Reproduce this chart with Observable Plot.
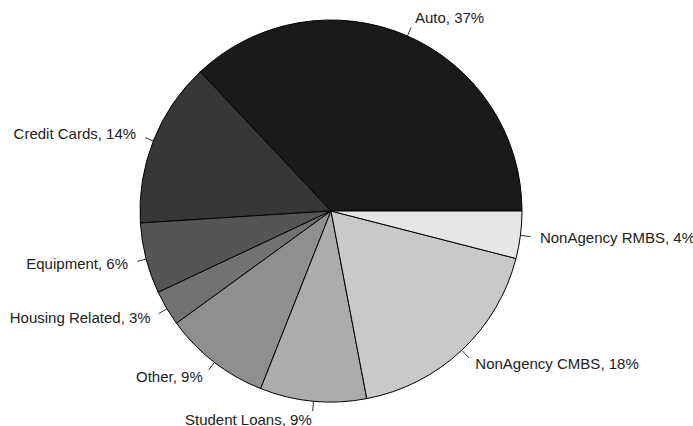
<!DOCTYPE html>
<html>
<head>
<meta charset="utf-8">
<script src="https://cdn.jsdelivr.net/npm/d3@7"></script>
<script src="https://cdn.jsdelivr.net/npm/@observablehq/plot@0.6"></script>
<style>
  html, body { margin: 0; padding: 0; background: #fff; }
</style>
</head>
<body>
<div id="chart"></div>
<script>
// Data (R-style pie: starts at 3 o'clock, counter-clockwise)
const categories = ["Auto", "Credit Cards", "Equipment", "Housing Related", "Other", "Student Loans", "NonAgency CMBS", "NonAgency RMBS"];
const shares = [37, 14, 6, 3, 9, 9, 18, 4];
const grays = ["#1a1a1a", "#373737", "#555555", "#727272", "#8f8f8f", "#acacac", "#c9c9c9", "#e6e6e6"];

const W = 693, H = 426;
const cx = 331, cy = 211, R = 191; // pixel layout of the pie

const total = d3.sum(shares);
const ends = d3.cumsum(shares);
const slices = categories.map((name, i) => {
  const a0 = (ends[i] - shares[i]) / total * 2 * Math.PI;
  const a1 = ends[i] / total * 2 * Math.PI;
  const mid = (a0 + a1) / 2;
  return {
    name, value: shares[i], a0, a1, mid,
    label: `${name}, ${shares[i]}%`,
    cos: Math.cos(mid), sin: Math.sin(mid)
  };
});

const color = Plot.scale({color: {type: "ordinal", domain: categories, range: grays}});

// custom pie mark drawn through Plot's x/y scales
function pieMark(index, scales) {
  const x = scales.x, y = scales.y;
  const ox = x(0), oy = y(0);
  const r = x(1) - x(0);
  const g = d3.create("svg:g");
  for (const s of slices) {
    // R draws counter-clockwise from east; d3.arc angles are clockwise from north
    const arc = d3.arc()
      .innerRadius(0).outerRadius(r)
      .startAngle(Math.PI / 2 - s.a1)
      .endAngle(Math.PI / 2 - s.a0);
    g.append("path")
      .attr("transform", `translate(${ox},${oy})`)
      .attr("d", arc())
      .attr("fill", color.apply(s.name))
      .attr("stroke", "#000")
      .attr("stroke-width", 1)
      .attr("stroke-linejoin", "round");
  }
  return g.node();
}

const chart = Plot.plot({
  width: W,
  height: H,
  margin: 0,
  x: {domain: [-cx / R, (W - cx) / R], axis: null},
  y: {domain: [-(H - cy) / R, cy / R], axis: null},
  style: {fontFamily: "'Liberation Sans', Arial, sans-serif", fontSize: "15px", background: "#fff", overflow: "visible"},
  marks: [
    pieMark,
    Plot.link(slices, {
      x1: d => d.cos, y1: d => d.sin,
      x2: d => 1.05 * d.cos, y2: d => 1.05 * d.sin,
      stroke: "#333", strokeWidth: 1
    }),
    Plot.text(slices.filter(d => d.cos >= 0), {
      x: d => 1.1 * d.cos, y: d => 1.1 * d.sin, text: "label",
      textAnchor: "start", fill: "#222", fontSize: 15
    }),
    Plot.text(slices.filter(d => d.cos < 0), {
      x: d => 1.1 * d.cos, y: d => 1.1 * d.sin, text: "label",
      textAnchor: "end", fill: "#222", fontSize: 15
    })
  ]
});

document.getElementById("chart").appendChild(chart);
</script>
</body>
</html>
